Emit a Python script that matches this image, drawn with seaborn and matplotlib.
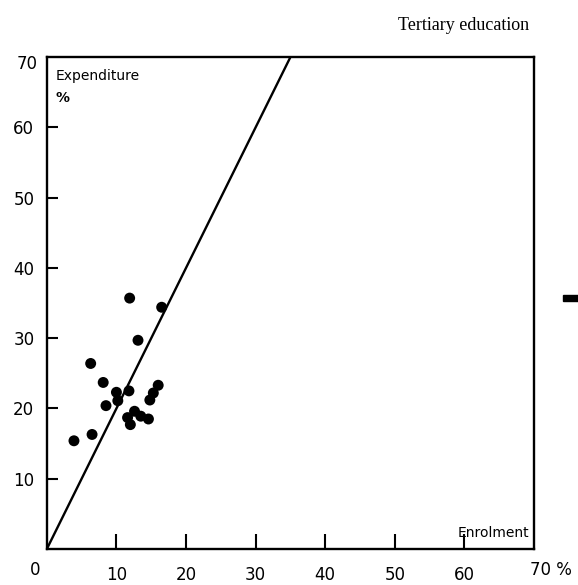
import numpy as np
import pandas as pd
import matplotlib
matplotlib.use("Agg")
import matplotlib.pyplot as plt
import matplotlib.transforms as mtransforms
from matplotlib.patches import Rectangle
import seaborn as sns

# --- data (percentages) ---
enrolment = [11.9, 16.5, 13.1, 6.3, 8.1, 10.0, 11.8, 16.0, 15.3, 14.8,
             10.2, 8.5, 12.6, 11.6, 12.0, 13.5, 14.6, 6.5, 3.9]
expenditure = [35.7, 34.4, 29.7, 26.4, 23.7, 22.3, 22.5, 23.3, 22.2, 21.2,
               21.1, 20.4, 19.6, 18.7, 17.7, 18.9, 18.5, 16.3, 15.4]
# reference line: expenditure share = 2 x enrolment share
line_x = [0, 35]
line_y = [0, 70]
tick_vals = [10, 20, 30, 40, 50, 60]

df = pd.DataFrame({"Enrolment": enrolment, "Expenditure": expenditure})
ref = pd.DataFrame({"x": line_x, "y": line_y})

sns.set_style("white")
plt.rcParams["font.family"] = ["DejaVu Sans"]
plt.rcParams["text.color"] = "black"

fig = plt.figure(figsize=(5.78, 5.85), dpi=100)
ax = fig.add_axes([0.081, 0.0615, 0.843, 0.841])

sns.lineplot(data=ref, x="x", y="y", color="black", linewidth=1.7, ax=ax)
sns.scatterplot(data=df, x="Enrolment", y="Expenditure", color="black",
                s=62, edgecolor="none", ax=ax, zorder=3)

ax.set_xlim(0, 70)
ax.set_ylim(0, 70)
ax.set_xlabel("")
ax.set_ylabel("")
for sp in ax.spines.values():
    sp.set_visible(True)
    sp.set_color("black")
    sp.set_linewidth(1.7)

ax.set_xticks(tick_vals)
ax.set_yticks(tick_vals)
ax.set_xticklabels([str(v) for v in tick_vals])
ax.set_yticklabels([str(v) for v in tick_vals])
ax.tick_params(axis="x", direction="in", length=11, width=1.5, pad=12,
               labelsize=12, colors="black", bottom=True)
ax.tick_params(axis="y", direction="in", length=8, width=1.5, pad=9,
               labelsize=12, colors="black", left=True)

# corner labels without tick marks
off0 = mtransforms.ScaledTranslation(-12 / 100, -12 / 100, fig.dpi_scale_trans)
ax.text(0, 0, "0", transform=ax.transAxes + off0, ha="center", va="top",
        fontsize=12)
off70 = mtransforms.ScaledTranslation(-4 / 100, -12 / 100, fig.dpi_scale_trans)
ax.text(1, 0, "70 %", transform=ax.transAxes + off70, ha="left", va="top",
        fontsize=12)
offy = mtransforms.ScaledTranslation(-9 / 100, -7 / 100, fig.dpi_scale_trans)
ax.text(0, 1, "70", transform=ax.transAxes + offy, ha="right", va="center",
        fontsize=12)

# axis titles inside the frame
narrow = ["Liberation Sans Narrow", "DejaVu Sans"]
ax.text(0.018, 0.975, "Expenditure", transform=ax.transAxes, ha="left",
        va="top", fontsize=10, family=narrow)
ax.text(0.018, 0.93, "%", transform=ax.transAxes, ha="left", va="top",
        fontsize=10, fontweight="bold", family=narrow)
ax.text(0.99, 0.018, "Enrolment", transform=ax.transAxes, ha="right",
        va="bottom", fontsize=10, family=narrow)

fig.text(0.915, 0.957, "Tertiary education", ha="right", va="center",
         fontsize=13, family=["Liberation Serif", "DejaVu Serif"])

# small dash mark at the right edge of the page
fig.add_artist(Rectangle((0.974, 0.485), 0.026, 0.01, transform=fig.transFigure,
                         color="black"))

fig.savefig("out.png", dpi=100)
